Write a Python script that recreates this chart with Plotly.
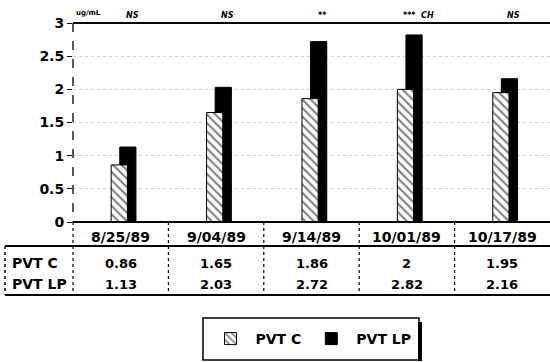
import plotly.graph_objects as go

categories = ["8/25/89", "9/04/89", "9/14/89", "10/01/89", "10/17/89"]
pvt_c = [0.86, 1.65, 1.86, 2, 1.95]
pvt_lp = [1.13, 2.03, 2.72, 2.82, 2.16]
pvt_c_labels = ["0.86", "1.65", "1.86", "2", "1.95"]
pvt_lp_labels = ["1.13", "2.03", "2.72", "2.82", "2.16"]
significance = ["NS", "NS", "**", "***  CH", "NS"]
y_ticks = [0, 0.5, 1, 1.5, 2, 2.5, 3]
y_tick_labels = ["0", "0.5", "1", "1.5", "2", "2.5", "3"]

W, H = 550, 362
L, R, T, B = 73, 0, 23, 140
PH = H - T - B
PW = W - L - R

def py(p):
    return (H - B - p) / PH

def px(p):
    return (p - L) / PW

FONT = "DejaVu Sans"
xs = list(range(len(categories)))

fig = go.Figure()
fig.add_trace(go.Bar(
    x=xs, y=pvt_lp, name="<b>PVT LP</b>", offset=-0.01, width=0.17,
    marker=dict(color="black", line=dict(color="black", width=1)),
    legendrank=2,
))
fig.add_trace(go.Bar(
    x=xs, y=pvt_c, name="<b>PVT C</b>", offset=-0.10, width=0.17,
    marker=dict(color="white", line=dict(color="black", width=1),
                pattern=dict(shape="\\", fgcolor="black", bgcolor="white", size=6, solidity=0.35)),
    legendrank=1,
))

TT, TB = 246, 295
shapes = []
shapes.append(dict(type="line", xref="paper", yref="paper", x0=0, x1=1, y0=1, y1=1,
                   line=dict(color="black", width=2)))
shapes.append(dict(type="line", xref="paper", yref="paper", x0=0, x1=1, y0=0, y1=0,
                   line=dict(color="black", width=2)))
shapes.append(dict(type="line", xref="paper", yref="paper", x0=0, x1=0, y0=1, y1=0,
                   line=dict(color="black", width=1.3, dash="dash")))
shapes.append(dict(type="line", xref="paper", yref="paper", x0=px(5), x1=1, y0=py(TT), y1=py(TT),
                   line=dict(color="black", width=2)))
shapes.append(dict(type="line", xref="paper", yref="paper", x0=px(5), x1=1, y0=py(TB), y1=py(TB),
                   line=dict(color="black", width=2)))
shapes.append(dict(type="line", xref="paper", yref="paper", x0=px(5), x1=px(5), y0=py(TT), y1=py(TB),
                   line=dict(color="black", width=1.5, dash="dot")))
shapes.append(dict(type="line", xref="paper", yref="paper", x0=0, x1=0, y0=0, y1=py(TB),
                   line=dict(color="black", width=1.2, dash="dot")))
for i in range(1, len(categories)):
    shapes.append(dict(type="line", xref="x", yref="paper", x0=i - 0.5, x1=i - 0.5, y0=0, y1=py(TB),
                       line=dict(color="black", width=1.2, dash="dot")))
shapes.append(dict(type="rect", xref="paper", yref="paper", x0=px(203), x1=px(419), y0=py(318), y1=py(360),
                   line=dict(color="black", width=1.5)))
shapes.append(dict(type="line", xref="paper", yref="paper", x0=px(420), x1=px(420), y0=py(322), y1=py(361),
                   line=dict(color="black", width=4)))

ann = []
for i, c in enumerate(categories):
    ann.append(dict(x=i, y=py(237), xref="x", yref="paper", yanchor="middle", text="<b>%s</b>" % c,
                    showarrow=False, font=dict(family=FONT, size=14, color="black")))
    ann.append(dict(x=i, y=py(263), xref="x", yref="paper", yanchor="middle",
                    text="<b>%s</b>" % pvt_c_labels[i],
                    showarrow=False, font=dict(family=FONT, size=13, color="black")))
    ann.append(dict(x=i, y=py(284), xref="x", yref="paper", yanchor="middle",
                    text="<b>%s</b>" % pvt_lp_labels[i],
                    showarrow=False, font=dict(family=FONT, size=13, color="black")))
    ann.append(dict(x=i + 0.12, y=py(16), xref="x", yref="paper", yanchor="middle",
                    text="<b><i>%s</i></b>" % significance[i],
                    showarrow=False, font=dict(family=FONT, size=8, color="black")))
ann.append(dict(x=px(10), y=py(263), xref="paper", yref="paper", xanchor="left", yanchor="middle",
                text="<b>PVT C</b>", showarrow=False, font=dict(family=FONT, size=14, color="black")))
ann.append(dict(x=px(10), y=py(284), xref="paper", yref="paper", xanchor="left", yanchor="middle",
                text="<b>PVT LP</b>", showarrow=False, font=dict(family=FONT, size=14, color="black")))
ann.append(dict(x=px(74), y=py(13), xref="paper", yref="paper", xanchor="left", yanchor="middle",
                text="<b>ug/mL</b>", showarrow=False, font=dict(family=FONT, size=7, color="black")))

fig.update_layout(
    width=W, height=H, margin=dict(l=L, r=R, t=T, b=B, autoexpand=False),
    paper_bgcolor="white", plot_bgcolor="white",
    barmode="overlay", showlegend=True,
    legend=dict(orientation="h", x=px(311), xanchor="center", y=py(339), yanchor="middle",
                bgcolor="rgba(0,0,0,0)", font=dict(family=FONT, size=14, color="black"),
                traceorder="normal", itemwidth=40),
    shapes=shapes, annotations=ann,
    font=dict(family=FONT, color="black"),
)
fig.update_xaxes(range=[-0.5, len(categories) - 0.5], showticklabels=False, showgrid=False,
                 zeroline=False, showline=False, ticks="")
fig.update_yaxes(range=[0, 3], tickvals=y_ticks, ticktext=["<b>%s</b>" % t for t in y_tick_labels],
                 tickfont=dict(family=FONT, size=14, color="black"),
                 ticks="outside", ticklen=5, tickcolor="black",
                 showgrid=True, gridcolor="#cfcfcf", griddash="dot", gridwidth=1,
                 zeroline=False, showline=False)

fig.write_html("out.html", config={"displayModeBar": False},
               post_script="document.body.style.margin='0';")
